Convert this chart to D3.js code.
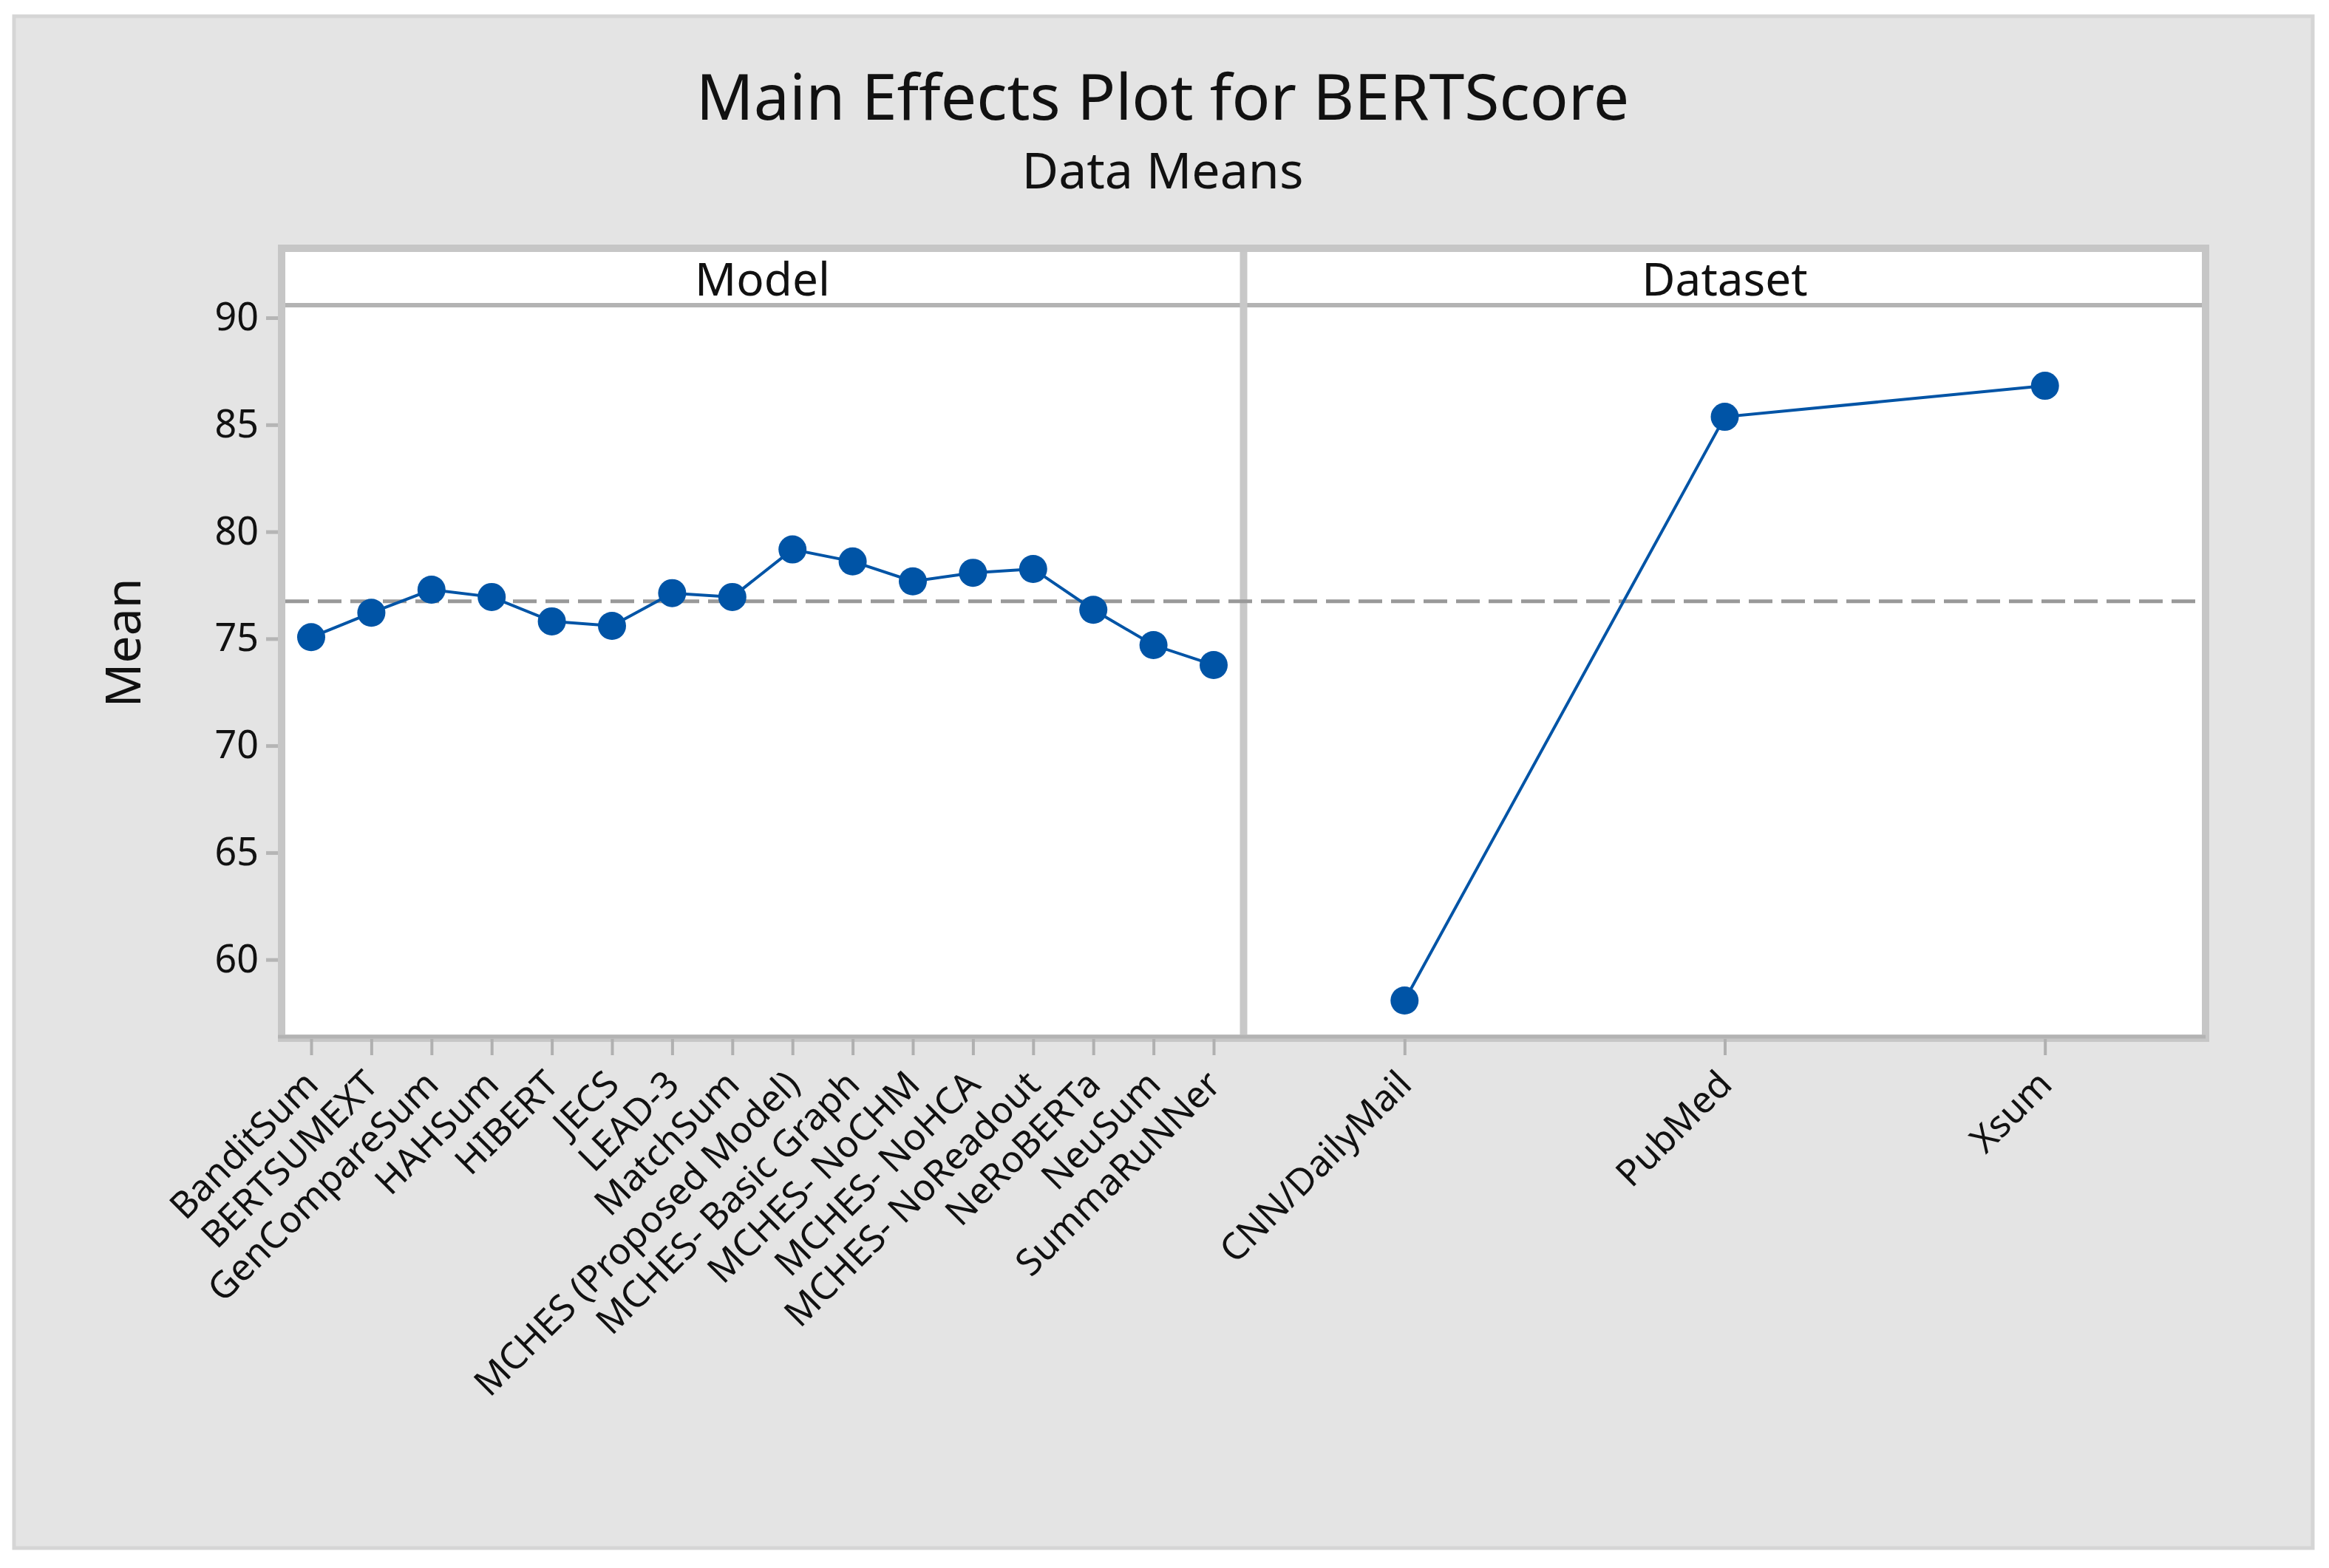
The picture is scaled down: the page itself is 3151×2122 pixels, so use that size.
<!DOCTYPE html>
<html>
<head>
<meta charset="utf-8">
<script src="https://cdn.jsdelivr.net/npm/d3@7"></script>
<style>
  body { margin: 0; background: #fff; }
  text { font-family: "Noto Sans", "Open Sans", sans-serif; fill: #111; }
</style>
</head>
<body>
<svg id="chart" width="3151" height="2122"></svg>
<script>
// data
var models = ["BanditSum", "BERTSUMEXT", "GenCompareSum", "HAHSum", "HIBERT", "JECS",
  "LEAD-3", "MatchSum", "MCHES (Proposed Model)", "MCHES- Basic Graph", "MCHES- NoCHM",
  "MCHES- NoHCA", "MCHES- NoReadout", "NeRoBERTa", "NeuSum", "SummaRuNNer"];
var modelMeans = [75.07, 76.21, 77.29, 76.95, 75.81, 75.60, 77.13, 76.95,
  79.17, 78.61, 77.68, 78.08, 78.26, 76.35, 74.70, 73.77];
var datasets = ["CNN/DailyMail", "PubMed", "Xsum"];
var datasetMeans = [58.09, 85.37, 86.82];
var grandMean = 76.75;
var yTicks = [60, 65, 70, 75, 80, 85, 90];

var svg = d3.select("#chart");

// outer grey frame
svg.append("rect")
  .attr("x", 19).attr("y", 22).attr("width", 3110).attr("height", 2073)
  .attr("fill", "#e4e4e4").attr("stroke", "#d5d5d5").attr("stroke-width", 5);

// titles
svg.append("text").attr("x", 1573).attr("y", 162)
  .attr("text-anchor", "middle").style("font-size", "86px")
  .text("Main Effects Plot for BERTScore");
svg.append("text").attr("x", 1573).attr("y", 255)
  .attr("text-anchor", "middle").style("font-size", "68px")
  .text("Data Means");

// panel geometry
var plotTop = 417, plotBottom = 1400;
var panels = [
  { name: "Model", x0: 386, x1: 1677, cats: models, vals: modelMeans, pad: 0.43 },
  { name: "Dataset", x0: 1688, x1: 2979, cats: datasets, vals: datasetMeans, pad: 0.49 }
];

var y = d3.scaleLinear().domain([56.5, 90.45]).range([plotBottom, plotTop]);

// whole panel box (strip + data)
svg.append("rect")
  .attr("x", 381).attr("y", 336).attr("width", 2603).attr("height", 1069)
  .attr("fill", "#fff").attr("stroke", "#c6c6c6").attr("stroke-width", 10);

// strip bottom line
svg.append("line")
  .attr("x1", 386).attr("x2", 2979).attr("y1", 413).attr("y2", 413)
  .attr("stroke", "#b3b3b3").attr("stroke-width", 6);
// divider
svg.append("line")
  .attr("x1", 1682.5).attr("x2", 1682.5).attr("y1", 341).attr("y2", 1400)
  .attr("stroke", "#c8c8c8").attr("stroke-width", 10);
// bottom edge a bit darker
svg.append("line")
  .attr("x1", 376).attr("x2", 2984).attr("y1", 1403).attr("y2", 1403)
  .attr("stroke", "#b3b3b3").attr("stroke-width", 5);

// y axis
var yAxis = svg.append("g")
  .attr("transform", "translate(376,0)")
  .call(d3.axisLeft(y).tickValues(yTicks).tickSize(16).tickPadding(10));
yAxis.select(".domain").remove();
yAxis.selectAll(".tick line").attr("stroke", "#b5b5b5").attr("stroke-width", 5);
yAxis.selectAll(".tick text").style("font-size", "52px").style("font-family", "Noto Sans").attr("fill", "#111");

svg.append("text")
  .attr("transform", "translate(190,870) rotate(-90)")
  .attr("text-anchor", "middle").style("font-size", "66px")
  .text("Mean");

// reference line at the grand mean
svg.append("line")
  .attr("x1", 386).attr("x2", 2979)
  .attr("y1", y(grandMean)).attr("y2", y(grandMean))
  .attr("stroke", "#999").attr("stroke-width", 5)
  .attr("stroke-dasharray", "32,12");

var line = d3.line();

panels.forEach(function(p) {
  // strip label
  svg.append("text")
    .attr("x", (p.x0 + p.x1) / 2).attr("y", 400)
    .attr("text-anchor", "middle").style("font-size", "62px")
    .text(p.name);

  var x = d3.scalePoint().domain(p.cats).range([p.x0, p.x1]).padding(p.pad);

  var xAxis = svg.append("g")
    .attr("transform", "translate(0,1406)")
    .call(d3.axisBottom(x).tickSize(22).tickFormat(""));
  xAxis.select(".domain").remove();
  xAxis.selectAll(".tick line").attr("stroke", "#b0b0b0").attr("stroke-width", 4);

  svg.selectAll(null).data(p.cats).enter().append("text")
    .attr("transform", function(d) { return "translate(" + x(d) + ",1458) rotate(-45)"; })
    .attr("text-anchor", "end").attr("dy", "0.35em")
    .style("font-size", "50px")
    .text(function(d) { return d; });

  var pts = p.cats.map(function(c, i) { return [x(c), y(p.vals[i])]; });
  svg.append("path")
    .attr("d", line(pts))
    .attr("fill", "none").attr("stroke", "#0054a6").attr("stroke-width", 4);
  svg.selectAll(null).data(pts).enter().append("circle")
    .attr("cx", function(d) { return d[0]; })
    .attr("cy", function(d) { return d[1]; })
    .attr("r", 19)
    .attr("fill", "#0054a6");
});
</script>
</body>
</html>
